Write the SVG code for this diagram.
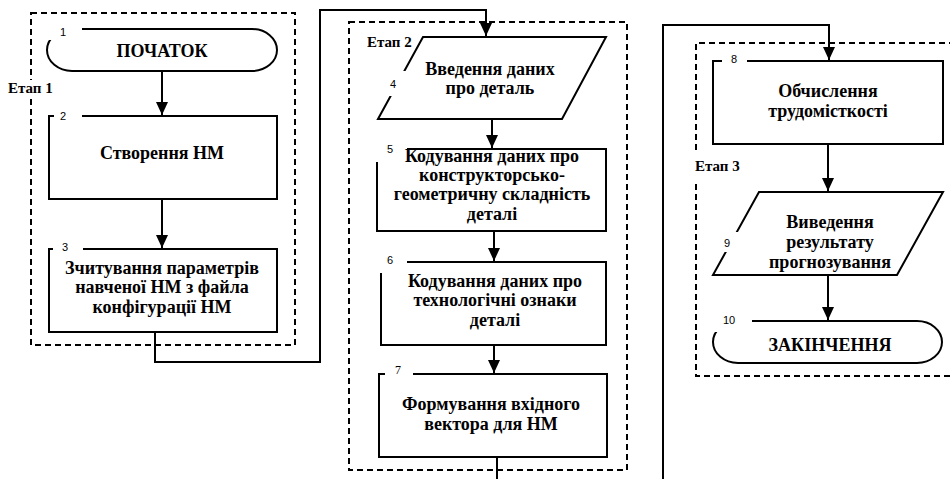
<svg xmlns="http://www.w3.org/2000/svg" width="950" height="479" viewBox="0 0 950 479">
<style>
.stage{fill:none;stroke:#000;stroke-width:2;stroke-dasharray:6 4}
.shape{fill:#fff;stroke:#000;stroke-width:2}
.gap{fill:#fff;stroke:none}
.c{fill:none;stroke:#000;stroke-width:2}
</style>
<defs>
<marker id="arr" markerUnits="userSpaceOnUse" markerWidth="14" markerHeight="13" refX="13" refY="6" orient="auto">
<path d="M0,0 L13,6 L0,12 z" fill="#000"/>
</marker>
</defs>
<rect x="0" y="0" width="950" height="479" fill="#fff"/>

<g id="stages">
<rect class="stage" x="31" y="13" width="264" height="332"/>
<rect class="stage" x="349" y="22" width="278" height="448"/>
<path class="stage" d="M955,43 H696 V376 H955"/>
<rect class="gap" x="6" y="80" width="58" height="17"/>
<text font-family="Liberation Serif" font-weight="bold" font-size="15" x="8" y="93">Етап 1</text>
<text font-family="Liberation Serif" font-weight="bold" font-size="15" x="367" y="47">Етап 2</text>
<rect class="gap" x="692" y="152" width="60" height="28"/>
<text font-family="Liberation Serif" font-weight="bold" font-size="15" x="695" y="171">Етап 3</text>
</g>

<g id="connectors">
<line class="c" x1="162" y1="71" x2="162" y2="115" marker-end="url(#arr)"/>
<line class="c" x1="162" y1="199" x2="162" y2="248" marker-end="url(#arr)"/>
<polyline class="c" points="155,332 155,362 320,362 320,10 486,10 486,36" marker-end="url(#arr)"/>
<line class="c" x1="492" y1="119" x2="492" y2="148" marker-end="url(#arr)"/>
<line class="c" x1="494" y1="231" x2="494" y2="261" marker-end="url(#arr)"/>
<line class="c" x1="494" y1="345" x2="494" y2="373" marker-end="url(#arr)"/>
<line class="c" x1="497" y1="457" x2="497" y2="480"/>
<polyline class="c" points="663,480 663,25 829,25 829,60" marker-end="url(#arr)"/>
<line class="c" x1="828" y1="144" x2="828" y2="191" marker-end="url(#arr)"/>
<line class="c" x1="828" y1="275" x2="828" y2="320" marker-end="url(#arr)"/>
</g>

<g id="n1">
<rect class="shape" x="47" y="29" width="230" height="42" rx="25" ry="21"/>
<rect class="gap" x="44" y="22" width="38" height="18"/>
<text font-family="Liberation Sans" font-size="11" x="60" y="36">1</text>
<text font-family="Liberation Serif" font-weight="bold" font-size="18" text-anchor="middle" x="162" y="57">ПОЧАТОК</text>
</g>

<g id="n2">
<rect class="shape" x="49" y="116" width="228" height="83"/>
<rect class="gap" x="54" y="108" width="28" height="12"/>
<text font-family="Liberation Sans" font-size="11" x="60" y="120">2</text>
<text font-family="Liberation Serif" font-weight="bold" font-size="18" text-anchor="middle" x="162" y="159">Створення НМ</text>
</g>

<g id="n3">
<rect class="shape" x="49" y="249" width="228" height="83"/>
<rect class="gap" x="53" y="241" width="30" height="12"/>
<text font-family="Liberation Sans" font-size="11" x="62" y="251">3</text>
<text font-family="Liberation Serif" font-weight="bold" font-size="18" text-anchor="middle" x="162" y="274">Зчитування параметрів</text>
<text font-family="Liberation Serif" font-weight="bold" font-size="18" text-anchor="middle" x="162" y="293">навченої НМ з файла</text>
<text font-family="Liberation Serif" font-weight="bold" font-size="18" text-anchor="middle" x="162" y="313">конфігурації НМ</text>
</g>

<g id="n4">
<polygon class="shape" points="423,37 606,37 562,119 378,119"/>
<rect class="gap" x="384" y="71" width="24" height="25"/>
<text font-family="Liberation Sans" font-size="11" x="390" y="88">4</text>
<text font-family="Liberation Serif" font-weight="bold" font-size="18" text-anchor="middle" x="490" y="75">Введення даних</text>
<text font-family="Liberation Serif" font-weight="bold" font-size="18" text-anchor="middle" x="490" y="94">про деталь</text>
</g>

<g id="n5">
<rect class="shape" x="377" y="149" width="229" height="82"/>
<rect class="gap" x="374" y="141" width="33" height="21"/>
<text font-family="Liberation Sans" font-size="11" x="387" y="153">5</text>
<text font-family="Liberation Serif" font-weight="bold" font-size="18" text-anchor="middle" x="492" y="162">Кодування даних про</text>
<text font-family="Liberation Serif" font-weight="bold" font-size="18" text-anchor="middle" x="492" y="181">конструкторсько-</text>
<text font-family="Liberation Serif" font-weight="bold" font-size="18" text-anchor="middle" x="492" y="200">геометричну складність</text>
<text font-family="Liberation Serif" font-weight="bold" font-size="18" text-anchor="middle" x="492" y="220">деталі</text>
</g>

<g id="n6">
<rect class="shape" x="381" y="262" width="225" height="83"/>
<rect class="gap" x="378" y="254" width="29" height="19"/>
<text font-family="Liberation Sans" font-size="11" x="387" y="264">6</text>
<text font-family="Liberation Serif" font-weight="bold" font-size="18" text-anchor="middle" x="495" y="287">Кодування даних про</text>
<text font-family="Liberation Serif" font-weight="bold" font-size="18" text-anchor="middle" x="495" y="306">технологічні ознаки</text>
<text font-family="Liberation Serif" font-weight="bold" font-size="18" text-anchor="middle" x="495" y="326">деталі</text>
</g>

<g id="n7">
<rect class="shape" x="379" y="374" width="228" height="83"/>
<rect class="gap" x="385" y="366" width="28" height="12"/>
<text font-family="Liberation Serif" font-size="12" x="395" y="374">7</text>
<text font-family="Liberation Serif" font-weight="bold" font-size="18" text-anchor="middle" x="491" y="410">Формування вхідного</text>
<text font-family="Liberation Serif" font-weight="bold" font-size="18" text-anchor="middle" x="491" y="430">вектора для НМ</text>
</g>

<g id="n8">
<rect class="shape" x="713" y="61" width="230" height="83"/>
<rect class="gap" x="722" y="53" width="25" height="12"/>
<text font-family="Liberation Sans" font-size="11" x="731" y="63">8</text>
<text font-family="Liberation Serif" font-weight="bold" font-size="18" text-anchor="middle" x="828" y="97">Обчислення</text>
<text font-family="Liberation Serif" font-weight="bold" font-size="18" text-anchor="middle" x="828" y="117">трудомісткості</text>
</g>

<g id="n9">
<polygon class="shape" points="759,192 943,192 897,275 713,275"/>
<rect class="gap" x="718" y="232" width="22" height="20"/>
<text font-family="Liberation Sans" font-size="11" x="724" y="247">9</text>
<text font-family="Liberation Serif" font-weight="bold" font-size="18" text-anchor="middle" x="830" y="228">Виведення</text>
<text font-family="Liberation Serif" font-weight="bold" font-size="18" text-anchor="middle" x="830" y="248">результату</text>
<text font-family="Liberation Serif" font-weight="bold" font-size="18" text-anchor="middle" x="830" y="268">прогнозування</text>
</g>

<g id="n10">
<rect class="shape" x="713" y="321" width="229" height="42" rx="25" ry="21"/>
<rect class="gap" x="710" y="312" width="42" height="20"/>
<text font-family="Liberation Sans" font-size="11" x="723" y="324">10</text>
<text font-family="Liberation Serif" font-weight="bold" font-size="18" text-anchor="middle" x="830" y="351">ЗАКІНЧЕННЯ</text>
</g>
</svg>
